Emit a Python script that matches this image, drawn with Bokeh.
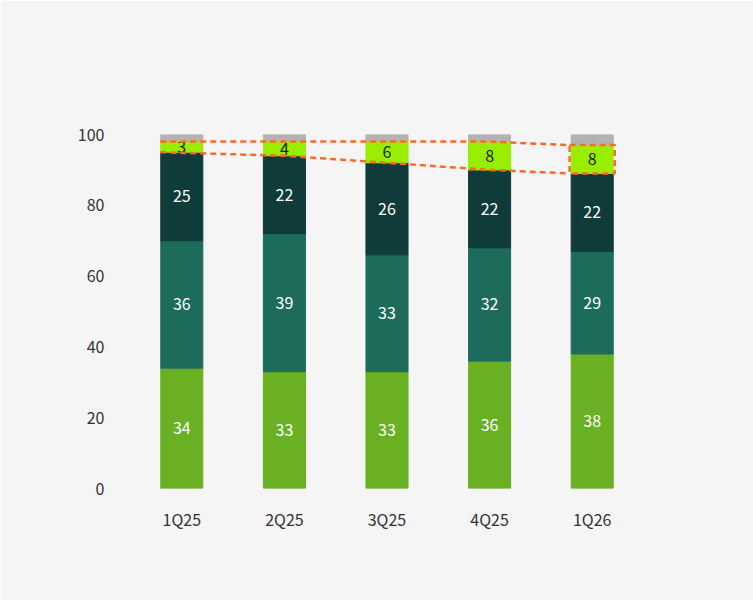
from bokeh.plotting import figure
from bokeh.models import Range1d, FixedTicker, Label, ColumnDataSource
from bokeh.embed import file_html
from bokeh.resources import INLINE
from bokeh.core.properties import value

quarters = ["1Q25", "2Q25", "3Q25", "4Q25", "1Q26"]
samsung = [34, 33, 33, 36, 38]
skhynix = [36, 39, 33, 32, 29]
micron = [25, 22, 26, 22, 22]
cxmt = [3, 4, 6, 8, 8]
other = [2, 2, 2, 2, 3]
series_names = ["삼성전자", "SK하이닉스", "마이크론", "CXMT", "기타"]
colors = ["#6ab023", "#1d6b5a", "#0f3b3a", "#99ee00", "#b3b3b3"]
text_colors = ["white", "white", "white", "#222222", None]

FONT = "Noto Sans CJK KR"
W, H = 753, 600
FL, FB = 130, 488  # frame left / bottom in page pixels
p = figure(width=W, height=H, output_backend="svg", toolbar_location=None,
           x_range=Range1d(-0.5, 4.5), y_range=Range1d(0, 100),
           min_border_left=130, min_border_right=110, min_border_top=134, min_border_bottom=112)
p.background_fill_color = "#f5f5f5"
p.border_fill_color = "#f5f5f5"
p.outline_line_color = None
p.grid.grid_line_color = None
p.xaxis.ticker = FixedTicker(ticks=list(range(5)))
p.xaxis.major_label_overrides = {i: q for i, q in enumerate(quarters)}
p.yaxis.ticker = FixedTicker(ticks=[0, 20, 40, 60, 80, 100])
for ax in (p.xaxis, p.yaxis):
    ax.axis_line_color = None
    ax.major_tick_line_color = None
    ax.minor_tick_line_color = None
    ax.major_label_text_font = FONT
    ax.major_label_text_font_size = "16px"
    ax.major_label_text_color = "#333333"
p.yaxis.major_label_standoff = 20
p.xaxis.major_label_standoff = 12

xs = list(range(5))
bottoms = [0] * 5
all_series = [samsung, skhynix, micron, cxmt, other]
for vals, col, tc in zip(all_series, colors, text_colors):
    tops = [b + v for b, v in zip(bottoms, vals)]
    src = ColumnDataSource(dict(x=xs, b=bottoms, t=tops, m=[(b + t) / 2 for b, t in zip(bottoms, tops)],
                                lab=[str(v) for v in vals]))
    p.vbar(x="x", bottom="b", top="t", width=0.41, color=col, source=src)
    if tc:
        p.text(x="x", y="m", text="lab", source=src, text_color=tc, text_align="center",
               text_baseline="middle", text_font=value(FONT), text_font_size="16px")
    bottoms = tops

cx_bot = [s + k + m for s, k, m in zip(samsung, skhynix, micron)]
cx_top = [b + c for b, c in zip(cx_bot, cxmt)]
lx = [-0.21, 1, 2, 3, 3.78]
orange = "#ff6a26"
p.line(lx, cx_top, line_color=orange, line_width=2.5, line_dash="6 4")
p.line(lx, cx_bot, line_color=orange, line_width=2.5, line_dash="6 4")
p.line([3.78, 4.22, 4.22, 3.78, 3.78], [cx_top[4], cx_top[4], cx_bot[4], cx_bot[4], cx_top[4]],
       line_color=orange, line_width=2.5, line_dash="6 4")

def lab(x, y, t, size="14px", bold=False, align="left", color="#222222"):
    p.add_layout(Label(x=x - FL, y=FB - y, x_units="screen", y_units="screen", text=t, text_font=FONT,
                       text_font_size=size, text_font_style="bold" if bold else "normal",
                       text_align=align, text_baseline="middle", text_color=color))

lab(W / 2, 50, "글로벌 DRAM 시장 내 CXMT 점유율 확대 중", size="27px", bold=True, align="center", color="#111111")
lab(83, 100, "(%)", size="15px")
leg_x = [176, 271, 391, 495, 584]
for lx0, name, col in zip(leg_x, series_names, colors):
    p.add_layout(Label(x=lx0 - FL, y=FB - 111, x_units="screen", y_units="screen", text="■", text_color=col,
                       text_font_size="13px", text_baseline="middle"))
    lab(lx0 + 14, 111, name, size="15px")
lab(24, 549, "* 자료: Counterpoint Research, NH투자증권 정리", size="14px")
lab(24, 575, "* 과거 흐름이 미래 흐름을 보장하지 않습니다.", size="14px")

open("out.html", "w").write(file_html(p, INLINE))
